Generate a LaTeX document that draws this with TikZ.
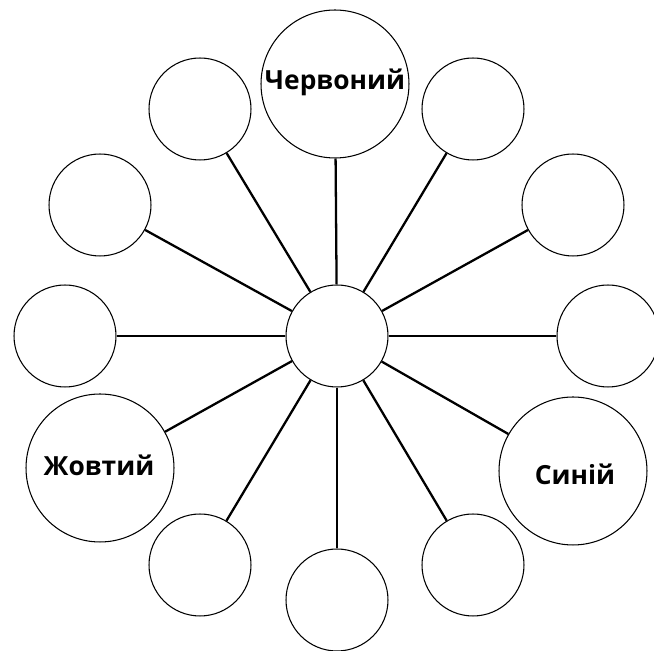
\documentclass[tikz,border=0pt]{standalone}
\usepackage{fontspec}
\setmainfont{Open Sans}
\usepackage{tikz}

\tikzset{
  blob/.style={circle,draw,line width=0.6pt,minimum size=2.04cm,inner sep=0pt,
    font=\bfseries\fontsize{15}{17}\selectfont},
  bigblob/.style={blob,minimum size=2.96cm},
  spoke/.style={line width=1.3pt}
}

\begin{document}
\begin{tikzpicture}[x=0.02cm,y=-0.02cm]
\clip (0,0) rectangle (654,651);
\node[blob] (hub) at (337,336) {};
\node[bigblob] (red) at (335,84) {};
\node (redtxt) at (335,82) {\bfseries\fontsize{15}{17}\selectfont Червоний};
\node[blob] (tl) at (200,109) {};
\node[blob] (tr) at (473,109) {};
\node[blob] (ul) at (100,205) {};
\node[blob] (ur) at (573,205) {};
\node[blob] (ml) at (65,336) {};
\node[blob] (mr) at (608,336) {};
\node[bigblob] (yellow) at (100,468) {};
\node (yellowtxt) at (99,465) {\bfseries\fontsize{15}{17}\selectfont Жовтий};
\node[bigblob] (blue) at (573,471) {};
\node (bluetxt) at (575,474) {\bfseries\fontsize{15}{17}\selectfont Синій};
\node[blob] (bl) at (200,565) {};
\node[blob] (bm) at (337,600) {};
\node[blob] (br) at (473,565) {};
\draw[spoke] (hub) -- (red);
\draw[spoke] (hub) -- (tl);
\draw[spoke] (hub) -- (tr);
\draw[spoke] (hub) -- (ul);
\draw[spoke] (hub) -- (ur);
\draw[spoke] (hub) -- (ml);
\draw[spoke] (hub) -- (mr);
\draw[spoke] (hub) -- (yellow);
\draw[spoke] (hub) -- (blue);
\draw[spoke] (hub) -- (bl);
\draw[spoke] (hub) -- (bm);
\draw[spoke] (hub) -- (br);
\end{tikzpicture}
\end{document}
